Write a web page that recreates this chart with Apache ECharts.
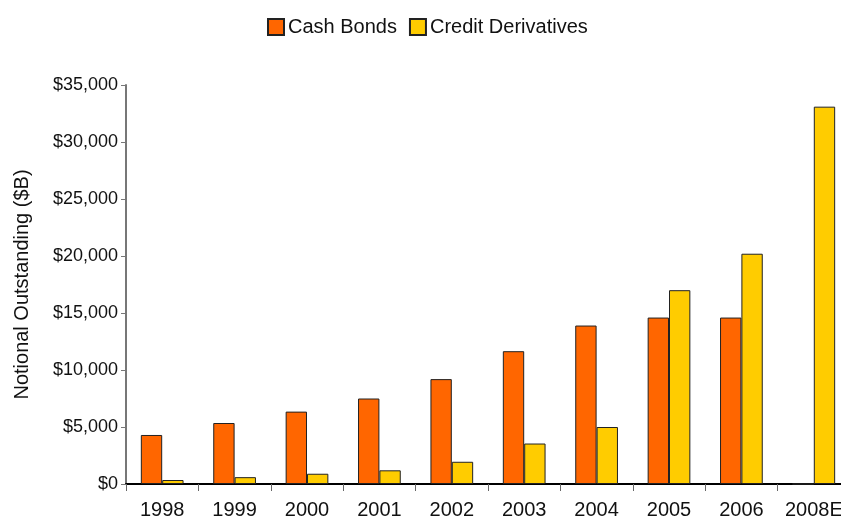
<!DOCTYPE html>
<html>
<head>
<meta charset="utf-8">
<script src="https://cdn.jsdelivr.net/npm/echarts@6/dist/echarts.min.js"></script>
<style>
  html, body { margin: 0; padding: 0; background: #fff; overflow: hidden; }
  /* the plot runs slightly past the right edge of the window, so the canvas is a bit wider */
  #chart { width: 870px; height: 517px; }
</style>
</head>
<body>
<div id="chart"></div>
<script>
// Notional outstanding, $ billions
const years = ['1998', '1999', '2000', '2001', '2002', '2003', '2004', '2005', '2006', '2008E'];
const cashBonds = [4300, 5350, 6350, 7500, 9200, 11650, 13900, 14600, 14600, 0];
const creditDerivatives = [350, 600, 900, 1200, 1950, 3550, 5000, 17000, 20200, 33100];
const seriesNames = ['Cash Bonds', 'Credit Derivatives'];

const FONT = "'Liberation Sans', Arial, sans-serif";

const chart = echarts.init(document.getElementById('chart'), null, { renderer: 'canvas' });

function money(v) {
  return '$' + v.toLocaleString('en-US');
}

chart.setOption({
  animation: false,
  textStyle: { fontFamily: FONT, color: '#111' },
  legend: {
    top: 12,
    left: 262,
    itemWidth: 16,
    itemHeight: 16,
    itemGap: 12,
    textStyle: { fontFamily: FONT, fontSize: 20, color: '#111', padding: [0, 0, 0, -1] },
    data: seriesNames.map(n => ({ name: n, icon: 'rect' }))
  },
  grid: { left: 126, top: 85, width: 724, height: 399, containLabel: false, outerBoundsMode: 'none' },
  xAxis: {
    type: 'category',
    data: years,
    axisLine: { lineStyle: { color: '#000', width: 2 } },
    axisTick: { show: true, length: 7, lineStyle: { color: '#666', width: 1 } },
    axisLabel: { fontFamily: FONT, fontSize: 20, color: '#111', margin: 16, interval: 0 }
  },
  yAxis: {
    type: 'value',
    min: 0,
    max: 35000,
    interval: 5000,
    name: 'Notional Outstanding ($B)',
    nameLocation: 'middle',
    nameRotate: 90,
    nameGap: 94,
    nameTextStyle: { fontFamily: FONT, fontSize: 20, color: '#111' },
    axisLine: { show: true, lineStyle: { color: '#777', width: 2 } },
    axisTick: { show: true, length: 5, lineStyle: { color: '#777', width: 1 } },
    axisLabel: { fontFamily: FONT, fontSize: 18, color: '#111', margin: 8, formatter: money },
    splitLine: { show: false }
  },
  series: [
    {
      name: seriesNames[0],
      type: 'bar',
      data: cashBonds,
      barGap: '0%',
      barCategoryGap: '41%',
      itemStyle: { color: '#FF6600', borderColor: '#222', borderWidth: 1 }
    },
    {
      name: seriesNames[1],
      type: 'bar',
      data: creditDerivatives,
      barGap: '0%',
      barCategoryGap: '41%',
      itemStyle: { color: '#FFCC00', borderColor: '#222', borderWidth: 1 }
    }
  ]
});
</script>
</body>
</html>
